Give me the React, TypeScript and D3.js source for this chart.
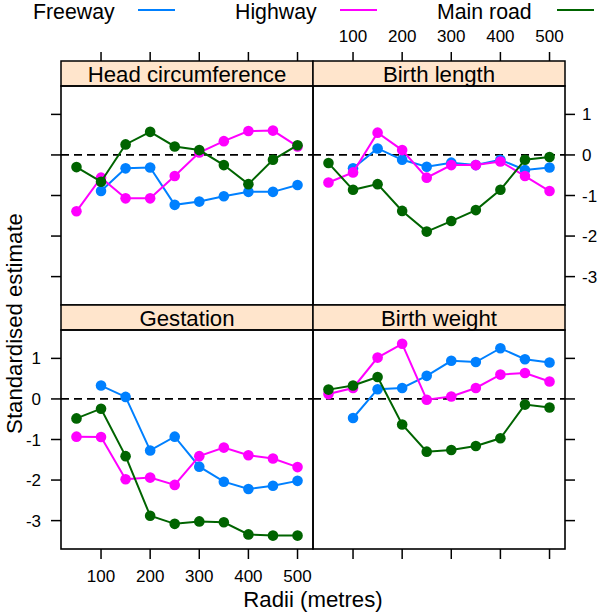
import React from "react";
import * as d3 from "d3";

const radii = [50, 100, 150, 200, 250, 300, 350, 400, 450, 500];
const xTicks = [100, 200, 300, 400, 500];
const yTicks = [-3, -2, -1, 0, 1];
const roadTypes = ["Freeway", "Highway", "Main road"];
const roadColors = ["#0080ff", "#ff00ff", "#006400"];
const outcomes = ["Head circumference", "Birth length", "Gestation", "Birth weight"];

const headFreeway = [null, -0.89, -0.33, -0.31, -1.23, -1.15, -1.02, -0.91, -0.91, -0.74];
const headHighway = [-1.39, -0.56, -1.07, -1.07, -0.52, 0.06, 0.34, 0.59, 0.6, 0.21];
const headMain = [-0.3, -0.66, 0.26, 0.57, 0.21, 0.12, -0.25, -0.72, -0.12, 0.24];

const lengthFreeway = [null, -0.33, 0.16, -0.12, -0.29, -0.19, -0.25, -0.12, -0.37, -0.31];
const lengthHighway = [-0.68, -0.43, 0.55, 0.12, -0.56, -0.25, -0.25, -0.16, -0.52, -0.89];
const lengthMain = [-0.2, -0.86, -0.72, -1.38, -1.89, -1.63, -1.36, -0.86, -0.12, -0.05];

const gestFreeway = [null, 0.33, 0.05, -1.27, -0.93, -1.67, -2.04, -2.22, -2.14, -2.02];
const gestHighway = [-0.93, -0.94, -1.98, -1.94, -2.12, -1.41, -1.2, -1.39, -1.47, -1.68];
const gestMain = [-0.48, -0.24, -1.41, -2.88, -3.08, -3.02, -3.04, -3.34, -3.37, -3.37];

const weightFreeway = [null, -0.47, 0.24, 0.27, 0.57, 0.94, 0.91, 1.25, 0.98, 0.9];
const weightHighway = [0.12, 0.27, 1.02, 1.36, -0.02, 0.06, 0.27, 0.6, 0.64, 0.43];
const weightMain = [0.23, 0.33, 0.54, -0.63, -1.3, -1.26, -1.16, -0.97, -0.14, -0.21];

const panelSeries: (number | null)[][][] = [
  [headFreeway, headHighway, headMain],
  [lengthFreeway, lengthHighway, lengthMain],
  [gestFreeway, gestHighway, gestMain],
  [weightFreeway, weightHighway, weightMain],
];

const FONT = "'Liberation Sans', Arial, Helvetica, sans-serif";

const LEFT = 61;
const PW = 252;
const TOP = 61;
const SH = 25;
const PH = 219;
const TICK = 9;

export default function App() {
  const xDomain: [number, number] = [18.5, 531.5];
  const yDomain: [number, number] = [-3.7, 1.7];

  const panels = outcomes.map((name, i) => {
    const col = i % 2;
    const row = Math.floor(i / 2);
    const x0 = LEFT + col * PW;
    const sy = TOP + row * (SH + PH);
    const py = sy + SH;
    const x = d3.scaleLinear().domain(xDomain).range([x0, x0 + PW]);
    const y = d3.scaleLinear().domain(yDomain).range([py + PH, py]);
    return { name, col, row, x0, sy, py, x, y, series: panelSeries[i] };
  });

  const bottomY = TOP + 2 * (SH + PH);

  return (
    <svg
      width={600}
      height={614}
      style={{ position: "absolute", left: 0, top: 0, background: "#fff" }}
      fontFamily={FONT}
    >
      <rect x={0} y={0} width={600} height={614} fill="#fff" />
      {/* legend */}
      {roadTypes.map((r, i) => {
        const tx = [33, 235, 437][i];
        const lx = [138, 340, 557][i];
        return (
          <g key={r}>
            <text x={tx} y={18.5} fontSize={21.3} fill="#000">
              {r}
            </text>
            <line x1={lx} x2={lx + 37} y1={10} y2={10} stroke={roadColors[i]} strokeWidth={2} />
          </g>
        );
      })}

      {panels.map((p) => {
        const line = d3
          .line<number | null>()
          .defined((d) => d !== null)
          .x((_, j) => p.x(radii[j]))
          .y((d) => p.y(d as number));
        return (
          <g key={p.name}>
            {/* strip */}
            <rect x={p.x0} y={p.sy} width={PW} height={SH} fill="#ffe5cc" stroke="#000" strokeWidth={1.5} />
            <text
              x={p.x0 + PW / 2}
              y={p.sy + SH / 2 + 8}
              textAnchor="middle"
              fontSize={22.2}
              fill="#000"
            >
              {p.name}
            </text>
            {/* zero reference */}
            <line
              x1={p.x0}
              x2={p.x0 + PW}
              y1={p.y(0)}
              y2={p.y(0)}
              stroke="#000"
              strokeWidth={1.8}
              strokeDasharray="8,5"
            />
            {p.series.map((s, k) => (
              <g key={k}>
                <path d={line(s) || ""} fill="none" stroke={roadColors[k]} strokeWidth={2} />
                {s.map((v, j) =>
                  v === null ? null : (
                    <circle key={j} cx={p.x(radii[j])} cy={p.y(v)} r={5.3} fill={roadColors[k]} />
                  )
                )}
              </g>
            ))}
            {/* panel border */}
            <rect x={p.x0} y={p.py} width={PW} height={PH} fill="none" stroke="#000" strokeWidth={1.6} />
            {/* axes ticks */}
            {p.row === 0 &&
              xTicks.map((t) => (
                <g key={"xt" + t}>
                  <line x1={p.x(t)} x2={p.x(t)} y1={p.sy} y2={p.sy - TICK} stroke="#000" strokeWidth={1.5} />
                  {p.col === 1 && (
                    <text x={p.x(t)} y={42} textAnchor="middle" fontSize={17}>
                      {t}
                    </text>
                  )}
                </g>
              ))}
            {p.row === 1 &&
              xTicks.map((t) => (
                <g key={"xb" + t}>
                  <line
                    x1={p.x(t)}
                    x2={p.x(t)}
                    y1={bottomY}
                    y2={bottomY + TICK + 1}
                    stroke="#000"
                    strokeWidth={1.5}
                  />
                  {p.col === 0 && (
                    <text x={p.x(t)} y={581.5} textAnchor="middle" fontSize={17}>
                      {t}
                    </text>
                  )}
                </g>
              ))}
            {p.col === 0 &&
              yTicks.map((t) => (
                <g key={"yl" + t}>
                  <line x1={p.x0} x2={p.x0 - TICK - 1} y1={p.y(t)} y2={p.y(t)} stroke="#000" strokeWidth={1.5} />
                  {p.row === 1 && (
                    <text x={41} y={p.y(t) + 6} textAnchor="end" fontSize={17}>
                      {t}
                    </text>
                  )}
                </g>
              ))}
            {p.col === 1 &&
              yTicks.map((t) => (
                <g key={"yr" + t}>
                  <line
                    x1={p.x0 + PW}
                    x2={p.x0 + PW + TICK + 1}
                    y1={p.y(t)}
                    y2={p.y(t)}
                    stroke="#000"
                    strokeWidth={1.5}
                  />
                  {p.row === 0 && (
                    <text x={582} y={p.y(t) + 6} textAnchor="start" fontSize={17}>
                      {t}
                    </text>
                  )}
                </g>
              ))}
          </g>
        );
      })}

      {/* axis titles */}
      <text x={313} y={606.5} textAnchor="middle" fontSize={22.2}>
        Radii (metres)
      </text>
      <text
        transform={`translate(21.5, ${(TOP + SH + bottomY) / 2 + 6}) rotate(-90)`}
        textAnchor="middle"
        fontSize={22.2}
      >
        Standardised estimate
      </text>
    </svg>
  );
}
